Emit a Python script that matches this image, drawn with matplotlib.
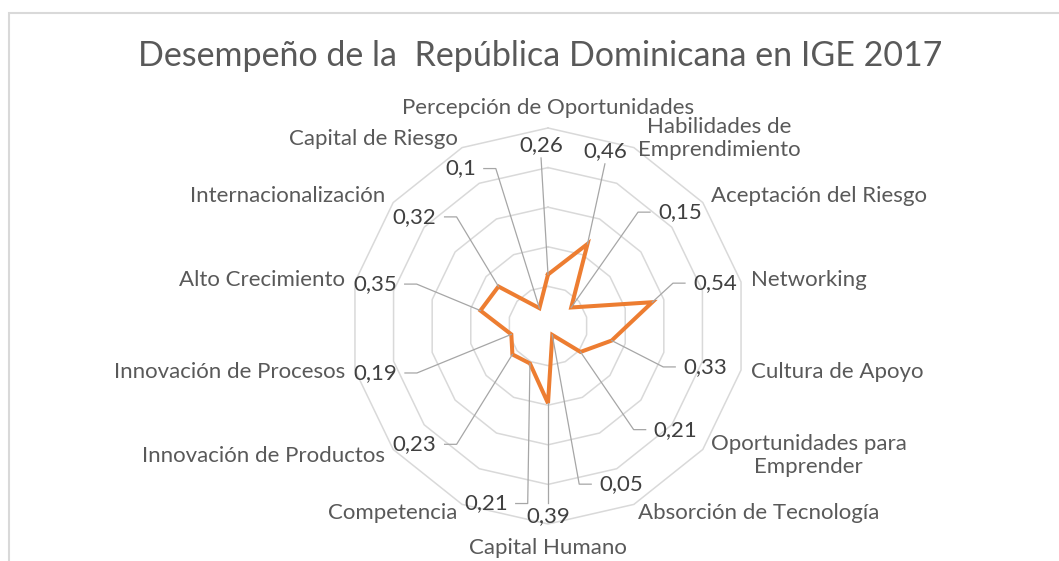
import numpy as np
import matplotlib
matplotlib.use('Agg')
import matplotlib.pyplot as plt
from matplotlib.lines import Line2D
from matplotlib.patches import Rectangle

plt.rcParams['font.family'] = ['Lato', 'DejaVu Sans']

# datos IGE 2017
categories = ['Percepción de Oportunidades', 'Habilidades de\nEmprendimiento', 'Aceptación del Riesgo',
              'Networking', 'Cultura de Apoyo', 'Oportunidades para\nEmprender', 'Absorción de Tecnología',
              'Capital Humano', 'Competencia', 'Innovación de Productos', 'Innovación de Procesos',
              'Alto Crecimiento', 'Internacionalización', 'Capital de Riesgo']
values = [0.26, 0.46, 0.15, 0.54, 0.33, 0.21, 0.05, 0.39, 0.21, 0.23, 0.19, 0.35, 0.32, 0.1]
value_labels = ['0,26', '0,46', '0,15', '0,54', '0,33', '0,21', '0,05', '0,39', '0,21', '0,23', '0,19', '0,35', '0,32', '0,1']
rings = [0.2, 0.4, 0.6, 0.8, 1.0]

# posicion de las etiquetas de datos (angulo en grados desde arriba, radio) y lado de la linea guia
lab_pos = [(357.8, 0.915, 'b'), (18.0, 0.93, 'b'), (49.2, 0.88, 'l'), (75.6, 0.87, 'l'),
           (104.6, 0.82, 'l'), (129.1, 0.83, 'l'), (155.2, 0.88, 'l'), (180.0, 0.96, 't'),
           (199.3, 0.95, 'r'), (228.4, 0.90, 'r'), (254.8, 0.905, 'r'), (283.6, 0.90, 'r'),
           (309.3, 0.87, 'r'), (330.9, 0.91, 'r')]

W, H = 1059, 561
fig = plt.figure(figsize=(W / 100, H / 100), dpi=100)
fig.patch.set_facecolor('white')

cx, cy, R = 548, 326, 198
ax = fig.add_axes([(cx - R) / W, (H - cy - R) / H, 2 * R / W, 2 * R / H], polar=True)
ax.set_theta_zero_location('N')
ax.set_theta_direction(-1)
ax.set_ylim(0, 1.0)
ax.axis('off')

n = len(categories)
ang = np.linspace(0, 2 * np.pi, n, endpoint=False)
ang_c = np.append(ang, ang[0])

for rv in rings:
    ax.plot(ang_c, [rv] * (n + 1), color='#d9d9d9', lw=1.1, zorder=1, clip_on=False)

ax.plot(ang_c, values + values[:1], color='#ed7d31', lw=2.9, zorder=4, solid_joinstyle='miter', clip_on=False)

# etiquetas de categorias
for a, lab in zip(ang, categories):
    s, c = np.sin(a), np.cos(a)
    ha = 'center' if abs(s) < 0.05 else ('left' if s > 0 else 'right')
    if abs(s) < 0.05:
        va = 'bottom' if c > 0 else 'top'
        rl = 1.05 if c > 0 else 1.07
    else:
        va = 'center'
        rl = 1.05
    ax.text(a, rl, lab, ha=ha, va=va, fontsize=16, color='#595959', multialignment='center',
            linespacing=1.22, clip_on=False)

# etiquetas de datos
texts = []
for (deg, rr, side), lab in zip(lab_pos, value_labels):
    t = ax.text(np.deg2rad(deg), rr, lab, ha='center', va='center', fontsize=16, color='#404040',
                zorder=5, clip_on=False)
    texts.append(t)

fig.text(540 / W, 1 - 56 / H, 'Desempeño de la  República Dominicana en IGE 2017', ha='center', va='center',
         fontsize=24.5, color='#595959')

fig.canvas.draw()
rend = fig.canvas.get_renderer()
for t, a, v, (deg, rr, side) in zip(texts, ang, values, lab_pos):
    bb = t.get_window_extent(rend)
    px, py = ax.transData.transform((a, v))
    mx, my = (bb.x0 + bb.x1) / 2, (bb.y0 + bb.y1) / 2
    if side == 'l':
        xs = [px, bb.x0 - 20, bb.x0 - 8]
        ys = [py, my, my]
    elif side == 'r':
        xs = [px, bb.x1 + 20, bb.x1 + 8]
        ys = [py, my, my]
    elif side == 'b':
        xs = [px, mx]
        ys = [py, bb.y0 - 3]
    else:
        xs = [px, mx]
        ys = [py, bb.y1 + 3]
    fig.add_artist(Line2D(xs, ys, transform=None, color='#a6a6a6', lw=0.9, zorder=3))

# borde del grafico
fig.add_artist(Rectangle((9 / W, -0.1), 1.2, 1 - 13 / H + 0.1, transform=fig.transFigure,
                         fill=False, edgecolor='#d9d9d9', lw=1.5))

fig.savefig('out.png', dpi=100)
